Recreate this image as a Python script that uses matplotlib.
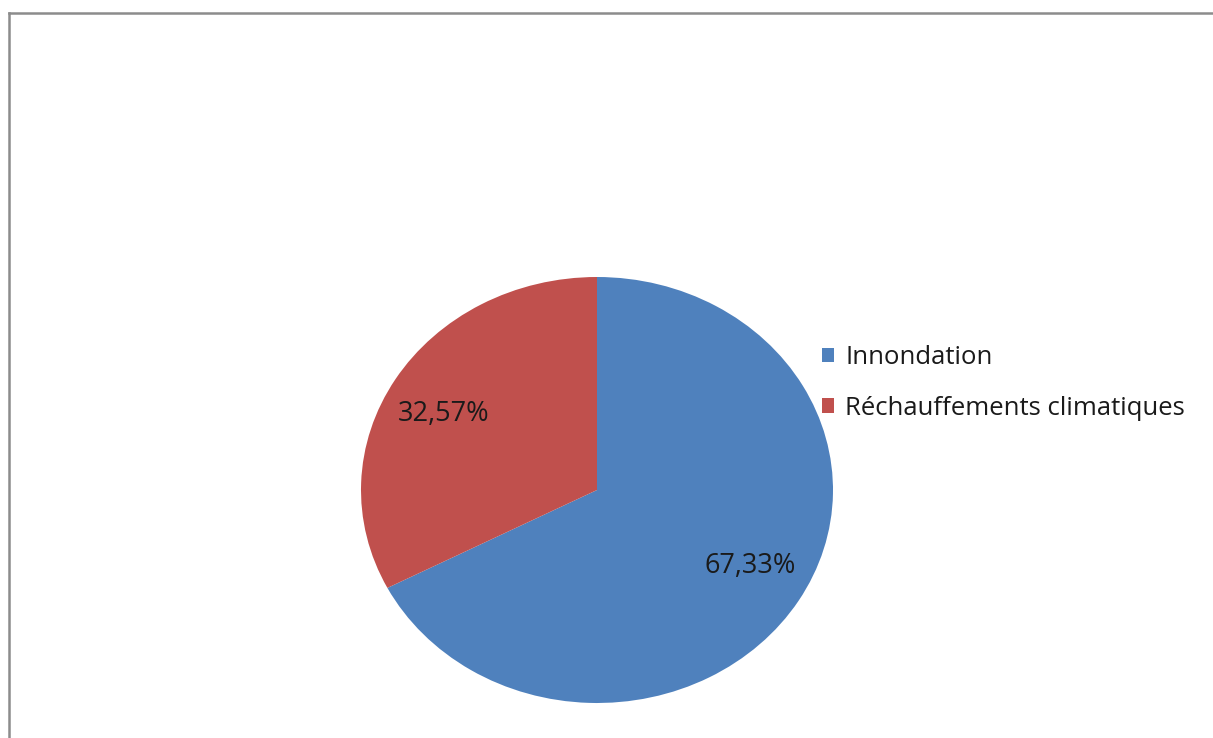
"""Pie chart: Innondation vs Réchauffements climatiques."""

import numpy as np
import matplotlib
matplotlib.use("Agg")
from matplotlib import pyplot as plt
from matplotlib.lines import Line2D
from matplotlib.patches import Patch

categories = ["Innondation", "Réchauffements climatiques"]
values = [67.33, 32.57]
colors = ["#4F81BD", "#C0504D"]

W, H = 1213, 738
plt.rcParams["font.family"] = ["Open Sans", "DejaVu Sans"]

fig = plt.figure(figsize=(W / 100, H / 100), dpi=100)

# pie occupies an ellipse-shaped box (stretched like the original)
ax = fig.add_axes([361 / W, (H - 703) / H, 472 / W, 426 / H])
wedges, _ = ax.pie(values, colors=colors, startangle=90, counterclock=False,
                   wedgeprops={"linewidth": 0})
ax.set_aspect("auto")
ax.set_xlim(-1, 1)
ax.set_ylim(-1, 1)
ax.axis("off")

for w, v in zip(wedges, values):
    mid = np.deg2rad((w.theta1 + w.theta2) / 2 + 2.5)
    r = 0.74
    ax.text(r * np.cos(mid), r * np.sin(mid), f"{v:.2f}%".replace(".", ","),
            ha="center", va="center", fontsize=19.5, color="#1a1a1a")

handles = [Patch(facecolor=c, edgecolor="none") for c in colors]
fig.legend(handles, categories, loc="upper left",
           bbox_to_anchor=(822 / W, (H - 345) / H), frameon=False,
           borderpad=0, borderaxespad=0,
           fontsize=18.5, handlelength=0.47, handleheight=0.47,
           handletextpad=0.43, labelspacing=1.0, labelcolor="#1a1a1a")

# chart border (only left and top visible in the crop)
gray = "#8c8c8c"
fig.add_artist(Line2D([9 / W, 9 / W], [0, (H - 12.5) / H], color=gray, lw=1.8))
fig.add_artist(Line2D([9 / W, 1], [(H - 12.5) / H, (H - 12.5) / H], color=gray, lw=1.8))

fig.savefig("out.png", dpi=100)
